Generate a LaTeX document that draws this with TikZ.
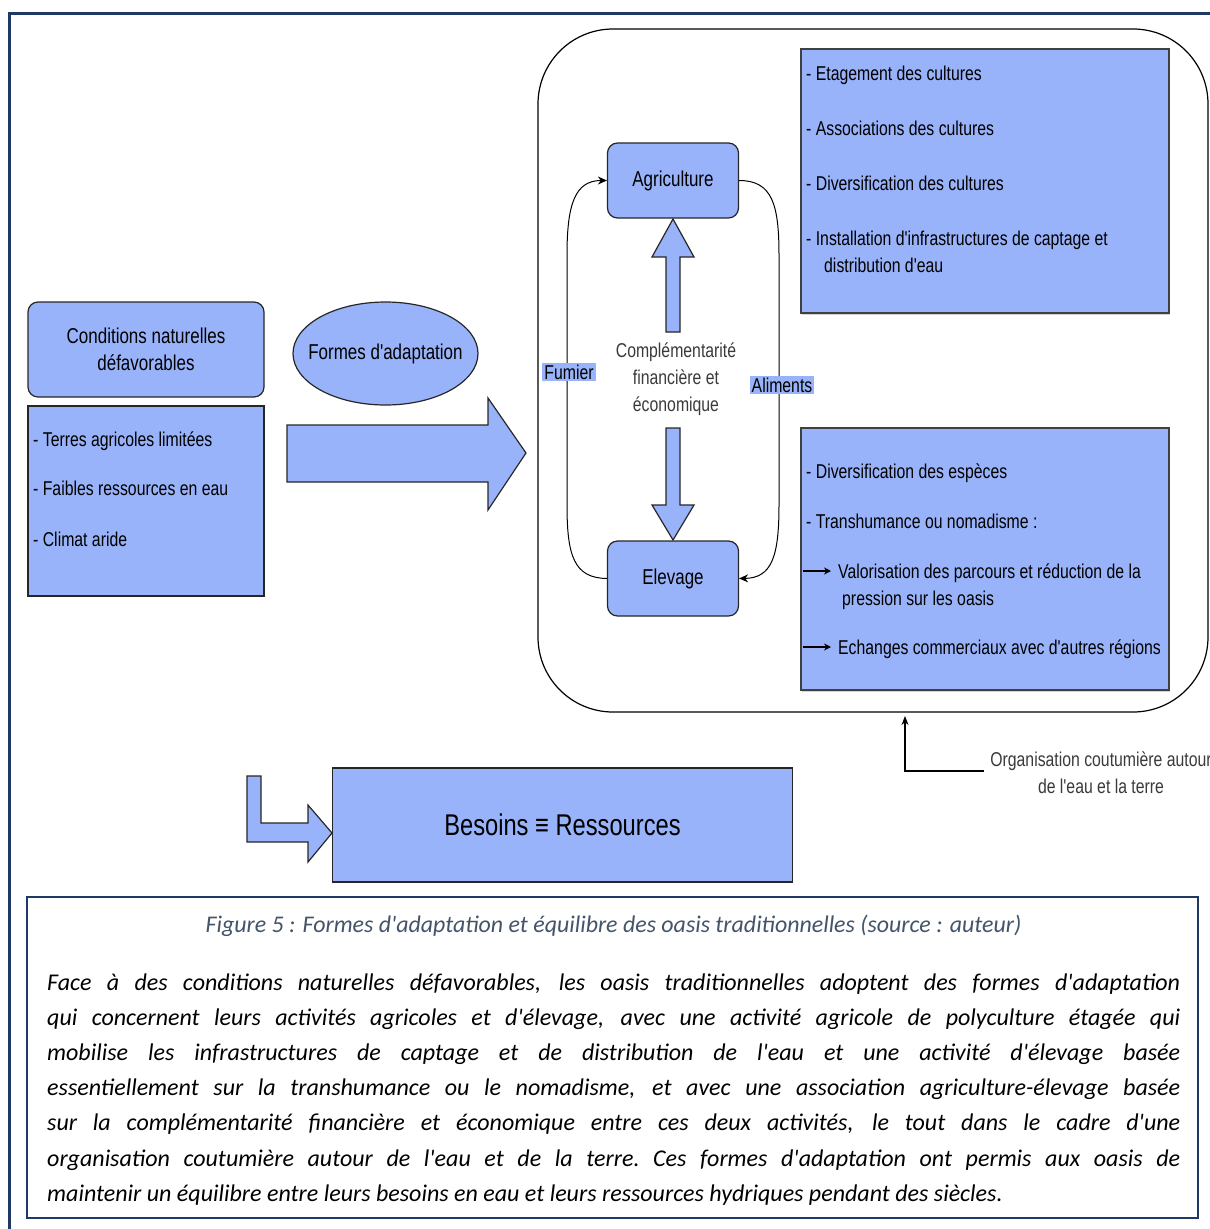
\documentclass[tikz,border=0pt]{standalone}
\usepackage{fontspec}
\setmainfont{Liberation Sans}
\newfontfamily\narrowfont{Liberation Sans}[FakeStretch=0.79]
\newfontfamily\capfont{Carlito}
\usetikzlibrary{arrows.meta,shapes.geometric,shadows}

\definecolor{boxblue}{RGB}{153,179,250}
\definecolor{framenavy}{RGB}{31,56,100}
\definecolor{capslate}{RGB}{68,84,106}
\definecolor{textgray}{RGB}{58,58,58}

\begin{document}
\begin{tikzpicture}[x=1pt,y=-1pt,
  every node/.style={font=\narrowfont},
  bluebox/.style={draw=black!85, fill=boxblue, line width=1.2pt},
  roundbox/.style={bluebox, rounded corners=10pt},
  panel/.style={bluebox, draw=black!75, drop shadow={opacity=0.35, shadow xshift=1pt, shadow yshift=-2pt}},
  listtext/.style={anchor=base west, inner sep=0pt, font=\narrowfont\fontsize{20}{24}\selectfont},
  headtext/.style={font=\narrowfont\fontsize{21.5}{27}\selectfont, align=center},
  flowline/.style={line width=1pt, -{Stealth[length=9pt,width=8pt]}},
  tag/.style={fill=boxblue, inner sep=2pt, font=\narrowfont\fontsize{20}{24}\selectfont},
  blockarrow/.style={draw=black!85, fill=boxblue, line width=1.2pt, line join=miter},
  bullet/.style={line width=1.1pt, -{Stealth[length=7pt,width=7pt]}},
  bodyline/.style={anchor=base west, inner sep=0pt, font=\capfont\itshape\fontsize{24}{30}\selectfont},
]
\useasboundingbox (0,0) rectangle (1210,1229);

% page frame (open on the right and at the bottom)
\draw[framenavy, line width=3pt] (9,1229) -- (9,13) -- (1210,13);

% ---------- left part ----------
\node[roundbox, headtext, minimum width=236pt, minimum height=95pt] (cond) at (146,349.5)
  {Conditions naturelles\\défavorables};
\node[bluebox, minimum width=236pt, minimum height=190pt] (limits) at (146,501) {};
\node[listtext] (l1) at (33,446) {- Terres agricoles limitées};
\node[listtext] (l2) at (33,495) {- Faibles ressources en eau};
\node[listtext] (l3) at (33,546) {- Climat aride};

\node[ellipse, draw=black!85, fill=boxblue, line width=1.2pt, inner sep=0pt,
      minimum width=185pt, minimum height=103pt] (formes) at (385.5,353.5) {};
\node[headtext] (formestext) at (formes.center) {Formes d'adaptation};

% large arrow towards the oasis system
\draw[blockarrow] (287,425) -- (488,425) -- (488,398) -- (526,453) -- (488,510) -- (488,482) -- (287,482) -- cycle;

% ---------- oasis system ----------
\node[draw, line width=1.2pt, rounded corners=75pt, minimum width=670pt, minimum height=683pt] (oasis) at (873,370.5) {};

\node[roundbox, headtext, minimum width=131pt, minimum height=75pt] (agri) at (673,180.5) {Agriculture};
\node[roundbox, headtext, minimum width=131pt, minimum height=75pt] (elev) at (673,578.5) {Elevage};

% complementarity arrows
\draw[blockarrow] (666,332) -- (666,257) -- (652,257) -- (673,219) -- (694,257) -- (680,257) -- (680,332) -- cycle;
\draw[blockarrow] (666,428) -- (666,505) -- (652,505) -- (673,540) -- (694,505) -- (680,505) -- (680,428) -- cycle;
\node[align=center, text=textgray, font=\narrowfont\fontsize{20}{27}\selectfont] (compl) at (676,379)
  {Complémentarité\\financière et\\économique};

% exchange loop
\draw[flowline] (elev.west) .. controls (574,578) and (567,556) .. (567,505) -- (567,255)
  .. controls (567,204) and (575,180.5) .. (agri.west);
\draw[flowline] (agri.east) .. controls (772,180.5) and (779,204) .. (779,255) -- (779,505)
  .. controls (779,556) and (772,578) .. (elev.east);
\node[tag] (fumier) at (569,372) {Fumier};
\node[tag] (aliments) at (782,385) {Aliments};

% agricultural practices
\node[panel, minimum width=368pt, minimum height=264pt] (cult) at (985,181) {};
\node[listtext] (c1) at (806,80) {- Etagement des cultures};
\node[listtext] (c2) at (806,135) {- Associations des cultures};
\node[listtext] (c3) at (806,190) {- Diversification des cultures};
\node[listtext] (c4) at (806,245) {- Installation d'infrastructures de captage et};
\node[listtext] (c5) at (824,272) {distribution d'eau};

% pastoral practices
\node[panel, minimum width=368pt, minimum height=262pt] (past) at (985,559) {};
\node[listtext] (p1) at (806,478) {- Diversification des espèces};
\node[listtext] (p2) at (806,528) {- Transhumance ou nomadisme :};
\coordinate (b1s) at (803,571);
\coordinate (b1e) at (831,571);
\draw[bullet] (b1s) -- (b1e);
\node[listtext] (p3) at (838,578) {Valorisation des parcours et réduction de la};
\node[listtext] (p4) at (842,605) {pression sur les oasis};
\coordinate (b2s) at (803,647);
\coordinate (b2e) at (831,647);
\draw[bullet] (b2s) -- (b2e);
\node[listtext] (p5) at (838,654) {Echanges commerciaux avec d'autres régions};

% customary organisation
\node[align=center, text=textgray, font=\narrowfont\fontsize{20}{27}\selectfont] (org) at (1101,773)
  {Organisation coutumière autour\\de l'eau et la terre};
\coordinate (orgfoot) at (984,771);
\coordinate (orgtip) at (905,716);
\draw[line width=1.1pt, -{Stealth[length=9pt,width=7pt]}] (orgfoot) -- (orgtip |- orgfoot) -- (orgtip);

% ---------- outcome ----------
\draw[blockarrow] (247,776) -- (261,776) -- (261,823) -- (308,823) -- (308,805) -- (332,833) -- (308,862) -- (308,842) -- (247,842) -- cycle;
\node[bluebox, minimum width=460pt, minimum height=114pt, font=\narrowfont\fontsize{30}{34}\selectfont] (balance) at (562.5,825)
  {Besoins ≡ Ressources};

% ---------- caption ----------
\draw[framenavy, line width=2.5pt, fill=white] (27,897) rectangle (1198,1218);
\node[anchor=base, inner sep=0pt, text=capslate, font=\capfont\itshape\fontsize{23.9}{28}\selectfont] (figcap) at (613.5,932)
  {Figure 5 : Formes d'adaptation et équilibre des oasis traditionnelles (source : auteur)};
\node[bodyline] (t1) at (47,990) {\makebox[1133pt][s]{Face à des conditions naturelles défavorables, les oasis traditionnelles adoptent des formes d'adaptation}};
\node[bodyline] (t2) at (47,1025) {\makebox[1133pt][s]{qui concernent leurs activités agricoles et d'élevage, avec une activité agricole de polyculture étagée qui}};
\node[bodyline] (t3) at (47,1060) {\makebox[1133pt][s]{mobilise les infrastructures de captage et de distribution de l'eau et une activité d'élevage basée}};
\node[bodyline] (t4) at (47,1095) {\makebox[1133pt][s]{essentiellement sur la transhumance ou le nomadisme, et avec une association agriculture-élevage basée}};
\node[bodyline] (t5) at (47,1130) {\makebox[1133pt][s]{sur la complémentarité financière et économique entre ces deux activités, le tout dans le cadre d'une}};
\node[bodyline] (t6) at (47,1166) {\makebox[1133pt][s]{organisation coutumière autour de l'eau et de la terre.\ Ces formes d'adaptation ont permis aux oasis de}};
\node[bodyline] (t7) at (47,1201) {maintenir un équilibre entre leurs besoins en eau et leurs ressources hydriques pendant des siècles.};
\end{tikzpicture}
\end{document}
